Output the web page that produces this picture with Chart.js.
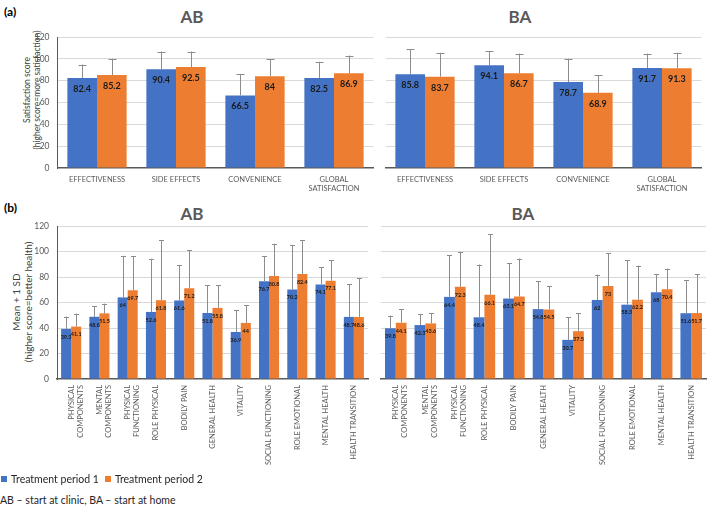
<!DOCTYPE html>
<html>
<head>
<meta charset="utf-8">
<script src="https://cdn.jsdelivr.net/npm/chart.js@4.4.1/dist/chart.umd.min.js"></script>
<style>
  body { margin: 0; background: #fff; width: 709px; height: 509px; position: relative; overflow: hidden; font-family: Lato, sans-serif; }
  canvas, .txt { position: absolute; }
  .panel { font-weight: bold; font-size: 12px; color: #000; }
  .title { font-weight: bold; font-size: 17px; color: #595959; transform: translate(-50%, -50%); }
  .ytitle { color: #404040; text-align: center; white-space: nowrap; transform: translate(-50%, -50%) rotate(-90deg); }
  #legend { left: 1px; top: 473px; font-size: 10.5px; color: #262626; display: flex; align-items: center; }
  #legend span.sw { display: inline-block; width: 6px; height: 6px; margin-right: 4px; }
  #legend span.item { margin-right: 6px; display: flex; align-items: center; }
  #footer { left: 0; top: 494px; font-size: 10.5px; color: #262626; }
</style>
</head>
<body>
<div class="txt panel" style="left:4px;top:4px">(a)</div>
<div class="txt panel" style="left:4px;top:200px">(b)</div>
<div class="txt title" style="left:192px;top:16px">AB</div>
<div class="txt title" style="left:520px;top:16px">BA</div>
<div class="txt title" style="left:192px;top:213px">AB</div>
<div class="txt title" style="left:523px;top:213px">BA</div>
<div class="txt ytitle" style="left:32px;top:90px;font-size:8.5px;line-height:10px">Satisfaction score<br>(higher score=more satisfaction)</div>
<div class="txt ytitle" style="left:22px;top:302px;font-size:10px;line-height:12px">Mean + 1 SD<br>(higher score=better health)</div>

<canvas id="satAB" width="376" height="205" style="left:0;top:0"></canvas>
<canvas id="satBA" width="329" height="205" style="left:380px;top:0"></canvas>
<canvas id="sfAB" width="376" height="270" style="left:0;top:200px"></canvas>
<canvas id="sfBA" width="333" height="270" style="left:376px;top:200px"></canvas>

<div class="txt" id="legend"></div>
<div class="txt" id="footer">AB – start at clinic, BA – start at home</div>

<script>
// --- data: satisfaction (panel a) ---
const satCategories = [['EFFECTIVENESS'], ['SIDE EFFECTS'], ['CONVENIENCE'], ['GLOBAL', 'SATISFACTION']];
const satAB1 = [82.4, 90.4, 66.5, 82.5];
const satAB1Sd = [12.4, 16.3, 19.6, 14.8];
const satAB2 = [85.2, 92.5, 84, 86.9];
const satAB2Sd = [14.8, 14.2, 15.7, 16.1];
const satBA1 = [85.8, 94.1, 78.7, 91.7];
const satBA1Sd = [23.0, 13.2, 21.3, 13.1];
const satBA2 = [83.7, 86.7, 68.9, 91.3];
const satBA2Sd = [21.8, 18.1, 16.3, 14.2];

// --- data: SF-36 domains (panel b) ---
const sfCategories = [
  ['PHYSICAL', 'COMPONENTS'], ['MENTAL', 'COMPONENTS'], ['PHYSICAL', 'FUNCTIONING'],
  'ROLE PHYSICAL', 'BODILY PAIN', 'GENERAL HEALTH', 'VITALITY',
  'SOCIAL FUNCTIONING', 'ROLE EMOTIONAL', 'MENTAL HEALTH', 'HEALTH TRANSITION'
];
const sfAB1 = [39.3, 48.8, 64, 52.6, 61.6, 51.8, 36.9, 76.7, 70.2, 74.1, 48.7];
const sfAB1Sd = [9.7, 8.2, 32.6, 41.7, 27.7, 21.6, 17.3, 19.4, 34.8, 13.7, 25.5];
const sfAB2 = [41.1, 51.5, 69.7, 61.8, 71.2, 55.8, 44, 80.8, 82.4, 77.1, 48.6];
const sfAB2Sd = [10.2, 7.6, 26.9, 47.2, 29.8, 17.6, 14, 25.2, 26.5, 15.9, 30.3];
const sfBA1 = [39.8, 42.3, 64.4, 48.4, 63.1, 54.8, 30.7, 62, 58.3, 68, 51.6];
const sfBA1Sd = [9.9, 8.5, 32.7, 41.4, 27.8, 21.8, 17.7, 19.8, 34.9, 14, 25.7];
const sfBA2 = [44.1, 43.6, 72.3, 66.1, 64.7, 54.5, 37.5, 73, 62.2, 70.4, 51.7];
const sfBA2Sd = [10.6, 8.2, 27.4, 47.4, 29.8, 18.2, 14.3, 25.7, 26.6, 16.1, 30.3];

const yTicks = [0, 20, 40, 60, 80, 100, 120];
const seriesNames = ['Treatment period 1', 'Treatment period 2'];
const seriesColors = ['#4472C4', '#ED7D31'];

Chart.defaults.font.family = 'Lato, sans-serif';
Chart.defaults.color = '#595959';

// error bars (mean + 1 SD) and value labels inside the bars
const errorBarPlugin = {
  id: 'errorBars',
  afterDatasetsDraw(chart, args, opts) {
    const ctx = chart.ctx;
    const yScale = chart.scales.y;
    chart.data.datasets.forEach((ds, di) => {
      const meta = chart.getDatasetMeta(di);
      meta.data.forEach((bar, i) => {
        const top = yScale.getPixelForValue(ds.data[i] + ds.sd[i]);
        const x = Math.round(bar.x) + 0.5;
        ctx.save();
        ctx.strokeStyle = '#8c8c8c';
        ctx.lineWidth = 1;
        ctx.beginPath();
        ctx.moveTo(x, bar.y);
        ctx.lineTo(x, top);
        ctx.moveTo(x - opts.cap / 2, Math.round(top) + 0.5);
        ctx.lineTo(x + opts.cap / 2, Math.round(top) + 0.5);
        ctx.stroke();
        ctx.fillStyle = '#1a1a1a';
        ctx.font = opts.font;
        ctx.textAlign = 'center';
        ctx.textBaseline = 'middle';
        ctx.fillText(String(ds.data[i]), bar.x, bar.y + opts.labelOffset);
        ctx.restore();
      });
    });
  }
};

function makeChart(id, labels, d1, sd1, d2, sd2, cfg) {
  return new Chart(document.getElementById(id), {
    type: 'bar',
    data: {
      labels: labels,
      datasets: [
        { label: seriesNames[0], data: d1, sd: sd1, backgroundColor: seriesColors[0] },
        { label: seriesNames[1], data: d2, sd: sd2, backgroundColor: seriesColors[1] }
      ]
    },
    options: {
      responsive: false,
      animation: false,
      categoryPercentage: cfg.catPct,
      barPercentage: 1.0,
      layout: { padding: cfg.padding },
      plugins: {
        legend: { display: false },
        tooltip: { enabled: false },
        errorBars: { cap: cfg.cap, font: cfg.labelFont, labelOffset: cfg.labelOffset }
      },
      scales: {
        x: {
          grid: { display: false, drawTicks: false },
          border: { display: true, color: '#595959', width: 1.5 },
          ticks: {
            font: { size: cfg.xFont },
            padding: cfg.xPad,
            autoSkip: false,
            minRotation: cfg.rot,
            maxRotation: cfg.rot,
            color: '#595959'
          },
          afterFit: s => { s.height = cfg.xHeight; }
        },
        y: {
          min: 0,
          max: 120,
          afterBuildTicks: s => { s.ticks = yTicks.map(v => ({ value: v })); },
          grid: {
            drawTicks: false,
            color: c => (c.tick && c.tick.value === 0) ? 'rgba(0,0,0,0)' : '#d9d9d9'
          },
          border: { display: cfg.showY, color: '#595959', width: 1 },
          ticks: { display: cfg.showY, font: { size: 8.5 }, padding: 8, color: '#595959' },
          afterFit: s => { s.width = cfg.yWidth; }
        }
      }
    },
    plugins: [errorBarPlugin]
  });
}

makeChart('satAB', satCategories, satAB1, satAB1Sd, satAB2, satAB2Sd, {
  catPct: 0.75, padding: { top: 37, left: 0, right: 2.5, bottom: 0 },
  cap: 8, labelFont: 'bold 9px Lato', labelOffset: 11,
  xFont: 7.5, xPad: 7, rot: 0, xHeight: 37, showY: true, yWidth: 57.5
});
makeChart('satBA', satCategories, satBA1, satBA1Sd, satBA2, satBA2Sd, {
  catPct: 0.75, padding: { top: 37, left: 0, right: 7.5, bottom: 0 },
  cap: 8, labelFont: 'bold 9px Lato', labelOffset: 11,
  xFont: 7.5, xPad: 7, rot: 0, xHeight: 37, showY: false, yWidth: 5.5
});
makeChart('sfAB', sfCategories, sfAB1, sfAB1Sd, sfAB2, sfAB2Sd, {
  catPct: 0.71, padding: { top: 26, left: 0, right: 8, bottom: 0 },
  cap: 5, labelFont: 'bold 5.5px Lato', labelOffset: 8,
  xFont: 7.5, xPad: 6, rot: 90, xHeight: 91, showY: true, yWidth: 57
});
makeChart('sfBA', sfCategories, sfBA1, sfBA1Sd, sfBA2, sfBA2Sd, {
  catPct: 0.73, padding: { top: 26, left: 0, right: 3, bottom: 0 },
  cap: 5, labelFont: 'bold 5.5px Lato', labelOffset: 8,
  xFont: 7.5, xPad: 6, rot: 90, xHeight: 91, showY: false, yWidth: 5
});

// legend
const legend = document.getElementById('legend');
seriesNames.forEach((name, i) => {
  const item = document.createElement('span');
  item.className = 'item';
  const sw = document.createElement('span');
  sw.className = 'sw';
  sw.style.background = seriesColors[i];
  item.appendChild(sw);
  item.appendChild(document.createTextNode(name));
  legend.appendChild(item);
});
</script>
</body>
</html>
